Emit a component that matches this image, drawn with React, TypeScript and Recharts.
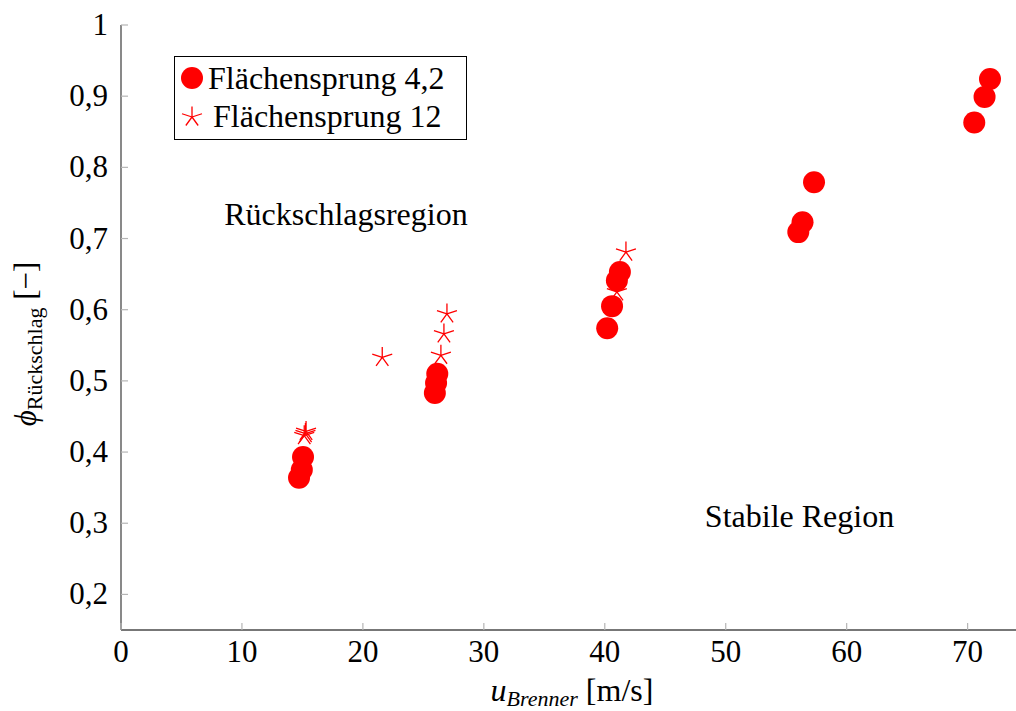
import React from 'react';
import { ScatterChart, Scatter, XAxis, YAxis, Legend, ReferenceDot, Label } from 'recharts';

const FONT = '"Liberation Serif", "Times New Roman", serif';
const RED = '#ff0000';
const AXIS = '#4a4a4a';
const TICK = '#b5b5b5';
const FS = 31;
const FS_TEXT = 32;

const seriesNames = ['Flächensprung 4,2', 'Flächensprung 12'];

const circleX = [14.72, 14.95, 15.05, 25.95, 26.05, 26.15, 40.2, 40.6, 41.0, 41.25, 56.0, 56.35, 57.3, 70.55, 71.4, 71.85];
const circleY = [0.364, 0.375, 0.393, 0.483, 0.497, 0.51, 0.574, 0.605, 0.641, 0.653, 0.709, 0.723, 0.779, 0.863, 0.899, 0.924];

const starX = [15.15, 15.25, 15.3, 21.6, 26.45, 26.7, 26.95, 41.0, 41.2, 41.75];
const starY = [0.423, 0.426, 0.429, 0.533, 0.536, 0.566, 0.594, 0.625, 0.648, 0.681];

const xTicks = [0, 10, 20, 30, 40, 50, 60, 70];
const yTicks = [0.2, 0.3, 0.4, 0.5, 0.6, 0.7, 0.8, 0.9, 1];

const annotationText = ['Rückschlagsregion', 'Stabile Region'];
const annotationX = [18.6, 56.1];
const annotationY = [0.735, 0.31];

const circleData = circleX.map((x, i) => ({ x, y: circleY[i] }));
const starData = starX.map((x, i) => ({ x, y: starY[i] }));

const starPath = (cx: number, cy: number, r: number) => {
  let d = '';
  for (let k = 0; k < 5; k++) {
    const a = ((-90 + 72 * k) * Math.PI) / 180;
    d += `M${cx},${cy}L${cx + r * Math.cos(a)},${cy + r * Math.sin(a)}`;
  }
  return d;
};

const CircleShape = (p: any) => <circle cx={p.cx} cy={p.cy} r={11} fill={RED} />;
const StarShape = (p: any) => (
  <path d={starPath(p.cx, p.cy, 10.5)} stroke={RED} strokeWidth={1.3} fill="none" />
);

const fmtY = (v: number) => (v === 1 ? '1' : v.toFixed(1).replace('.', ','));

const XTick = (props: any) => {
  const { x, y, payload } = props;
  return (
    <g>
      <line x1={x} x2={x} y1={y} y2={y - 7} stroke={TICK} strokeWidth={1.2} />
      <text x={x} y={y + 32} textAnchor="middle" fontFamily={FONT} fontSize={FS} fill="#000">
        {payload.value}
      </text>
    </g>
  );
};

const TopTick = (props: any) => {
  const { x, y } = props;
  return <line x1={x} x2={x} y1={y} y2={y + 7} stroke={TICK} strokeWidth={1.2} />;
};

const YTick = (props: any) => {
  const { x, y, payload } = props;
  return (
    <g>
      <line x1={x} x2={x + 7} y1={y} y2={y} stroke={TICK} strokeWidth={1.2} />
      <text x={x - 13} y={y + 10} textAnchor="end" fontFamily={FONT} fontSize={FS} fill="#000">
        {fmtY(payload.value)}
      </text>
    </g>
  );
};

const YLabel = () => {
  const cx = 36;
  const cy = 344;
  return (
    <text
      x={cx}
      y={cy}
      textAnchor="middle"
      transform={`rotate(-90 ${cx} ${cy})`}
      fontFamily={FONT}
      fontSize={FS}
      fill="#000"
    >
      <tspan fontStyle="italic">ϕ</tspan>
      <tspan fontSize={22} dy={6}>Rückschlag</tspan>
      <tspan dy={-6}> [−]</tspan>
    </text>
  );
};

const XLabel = () => {
  const cx = 572;
  const cy = 701;
  return (
    <text x={cx} y={cy} textAnchor="middle" fontFamily={FONT} fontSize={FS_TEXT} fill="#000">
      <tspan fontStyle="italic">u</tspan>
      <tspan fontStyle="italic" fontSize={22} dy={5}>Brenner</tspan>
      <tspan dy={-5}> [m/s]</tspan>
    </text>
  );
};

const LegendContent = () => (
  <div
    style={{
      width: 293,
      height: 84,
      boxSizing: 'border-box',
      border: '1px solid #000',
      background: '#fff',
      paddingTop: 2,
      fontFamily: FONT,
      fontSize: FS_TEXT,
      color: '#000',
    }}
  >
    {seriesNames.map((name, i) => (
      <div key={name} style={{ display: 'flex', alignItems: 'center', height: 38, lineHeight: '38px' }}>
        <svg width={24} height={24} style={{ marginLeft: 5, flex: 'none' }}>
          {i === 0 ? (
            <circle cx={12} cy={12} r={11} fill={RED} />
          ) : (
            <path d={starPath(12, 13, 10.5)} stroke={RED} strokeWidth={1.3} fill="none" />
          )}
        </svg>
        <span style={{ marginLeft: i === 0 ? 4 : 9, whiteSpace: 'nowrap' }}>{name}</span>
      </div>
    ))}
  </div>
);

export default function App() {
  return (
    <div style={{ position: 'absolute', left: 0, top: 0, width: 1016, height: 711, background: '#fff', fontFamily: FONT }}>
      <ScatterChart width={1016} height={711} margin={{ top: 25, right: 0, bottom: 0, left: 0 }}>
        <XAxis
          xAxisId={0}
          type="number"
          dataKey="x"
          domain={[0, 74]}
          ticks={xTicks}
          interval={0}
          height={81}
          tickSize={0}
          tickMargin={0}
          tickLine={false}
          axisLine={{ stroke: AXIS, strokeWidth: 1.3 }}
          tick={<XTick />}
          label={<Label content={<XLabel />} />}
        />
        <XAxis
          xAxisId="top"
          orientation="top"
          type="number"
          dataKey="x"
          domain={[0, 74]}
          ticks={xTicks}
          interval={0}
          height={0}
          tickSize={0}
          tickMargin={0}
          tickLine={false}
          axisLine={{ stroke: AXIS, strokeWidth: 1.3 }}
          tick={<TopTick />}
        />
        <YAxis
          type="number"
          dataKey="y"
          domain={[0.15, 1]}
          ticks={yTicks}
          interval={0}
          width={121}
          tickSize={0}
          tickMargin={0}
          tickLine={false}
          axisLine={{ stroke: AXIS, strokeWidth: 1.3 }}
          tick={<YTick />}
          label={<Label content={<YLabel />} />}
        />
        <Legend
          layout="horizontal"
          verticalAlign="middle"
          align="center"
          content={<LegendContent />}
          wrapperStyle={{ left: 174, top: 56, width: 293, height: 84 }}
        />
        <Scatter
          name={seriesNames[0]}
          data={circleData}
          xAxisId={0}
          fill={RED}
          shape={CircleShape}
          isAnimationActive={false}
        />
        <Scatter
          name={seriesNames[1]}
          data={starData}
          xAxisId={0}
          fill={RED}
          shape={StarShape}
          isAnimationActive={false}
        />
        {annotationText.map((t, i) => (
          <ReferenceDot
            key={t}
            xAxisId={0}
            x={annotationX[i]}
            y={annotationY[i]}
            r={0}
            fill="none"
            stroke="none"
            label={{ value: t, position: 'center', fontSize: FS_TEXT, fill: '#000', fontFamily: FONT }}
          />
        ))}
      </ScatterChart>
    </div>
  );
}
